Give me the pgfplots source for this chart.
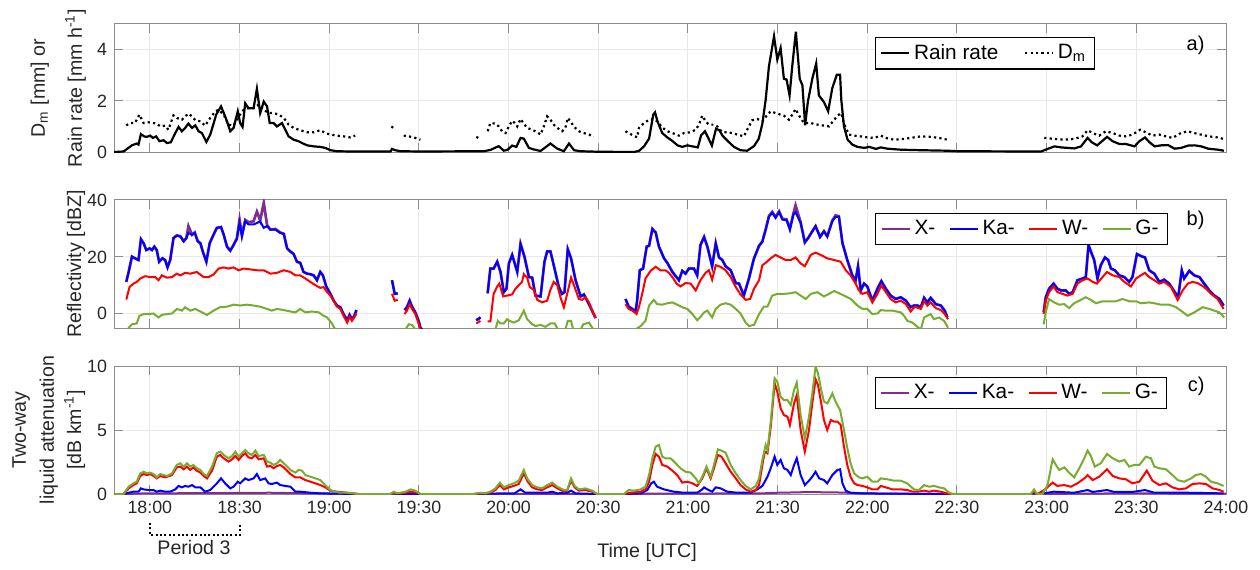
\documentclass[border=0pt]{standalone}
\usepackage{fontspec}
\setmainfont{Liberation Sans}
\usepackage{pgfplots}
\pgfplotsset{compat=1.18}
\usepackage{pgfplotstable}

\definecolor{cX}{rgb}{0.494,0.184,0.556}
\definecolor{cKa}{rgb}{0,0,1}
\definecolor{cW}{rgb}{1,0,0}
\definecolor{cG}{rgb}{0.466,0.674,0.188}
\definecolor{txt}{gray}{0.15}

% time in minutes after 18:00 UTC
\pgfplotstableread[row sep=\\]{
t r\\
-12 0\\ -8.8 0.02\\ -6.0 0.26\\ -4.4 0.33\\ -3.8 0.29\\ -3.0 0.70\\ -1.9 0.61\\ -1.0 0.59\\
0.1 0.64\\ 1.0 0.55\\ 2.1 0.61\\ 3.2 0.42\\ 4.6 0.46\\ 5.7 0.35\\ 7.0 0.38\\ 8.5 0.74\\
9.6 0.98\\ 10.7 0.81\\ 11.8 0.94\\ 12.9 1.11\\ 14.1 0.94\\ 15.2 1.04\\ 16.3 0.81\\ 17.4 0.74\\
18.9 0.39\\ 20.2 0.68\\ 22.2 1.46\\ 23.8 1.78\\ 25.2 1.39\\ 26.9 0.81\\ 28.0 0.94\\ 29.4 1.59\\
30.2 1.13\\ 31.0 0.98\\ 31.9 1.90\\ 33.0 1.71\\ 34.7 1.71\\ 35.8 2.47\\ 36.9 1.52\\ 38.1 1.97\\
39.2 1.78\\ 40.1 1.13\\ 41.4 1.13\\ 42.5 1.00\\ 44.2 1.13\\ 45.3 0.87\\ 46.4 0.61\\ 48.1 0.48\\
49.8 0.42\\ 50.9 0.35\\ 52.6 0.26\\ 54.8 0.22\\ 57.0 0.20\\ 58.7 0.16\\ 60.4 0.07\\ 62.6 0.03\\
67.1 0.02\\ 80.5 0.02\\ 81.0 0.12\\ 82.1 0.07\\ 83.8 0.03\\ 90.5 0.02\\ 111.7 0.03\\ 113.9 0.08\\
116.7 0.23\\ 118.4 0.05\\ 119.7 0.09\\ 121.2 0.25\\ 122.6 0.20\\ 124.0 0.55\\ 125.1 0.52\\ 126.8 0.16\\
128.4 0.10\\ 130.7 0.04\\ 134.0 0.33\\ 136.3 0.13\\ 138.5 0.03\\ 140.2 0.33\\ 141.9 0.07\\ 144.1 0.03\\
149.9 0.01\\ 162.0 0.0\\ 163.7 0.05\\ 165.3 0.22\\ 167.0 0.52\\ 168.4 1.46\\ 169.0 1.55\\ 169.8 1.20\\
171.4 0.74\\ 173.1 0.57\\ 174.8 0.43\\ 176.5 0.26\\ 178.1 0.20\\ 179.8 0.26\\ 181.5 0.22\\ 183.3 0.18\\
184.4 0.65\\ 185.7 0.81\\ 186.8 0.55\\ 188.0 0.25\\ 189.4 0.91\\ 190.5 0.85\\ 191.6 0.63\\ 193.3 0.43\\
195.4 0.20\\ 197.6 0.07\\ 199.8 0.05\\ 202.1 0.23\\ 203.7 0.52\\ 204.9 1.11\\ 206.0 2.04\\ 207.1 3.35\\
208.8 4.52\\ 209.9 3.61\\ 211.0 4.06\\ 212.1 2.86\\ 213.0 2.83\\ 214.0 2.21\\ 214.9 3.36\\ 216.1 4.70\\
217.4 2.86\\ 218.3 2.60\\ 219.2 1.04\\ 220.1 1.95\\ 221.6 2.86\\ 222.9 3.46\\ 223.8 2.21\\ 225.5 1.95\\
226.9 1.59\\ 228.3 2.50\\ 229.8 3.02\\ 230.9 3.02\\ 231.3 2.04\\ 232.2 1.00\\ 233.4 0.48\\ 235.0 0.29\\
236.7 0.20\\ 239.0 0.16\\ 240.6 0.20\\ 242.9 0.12\\ 244.5 0.18\\ 246.7 0.13\\ 251.2 0.09\\ 257.9 0.07\\
266.8 0.05\\ 270.2 0.03\\ 294.7 0.02\\ 298.1 0.02\\ 300.3 0.12\\ 302.6 0.22\\ 304.8 0.18\\ 309.3 0.14\\
311.5 0.22\\ 313.7 0.55\\ 315.1 0.38\\ 316.9 0.26\\ 320.2 0.59\\ 322.1 0.42\\ 324.4 0.31\\ 326.6 0.31\\
329.4 0.22\\ 331.0 0.42\\ 332.9 0.57\\ 334.4 0.38\\ 336.1 0.22\\ 338.3 0.26\\ 340.6 0.27\\ 342.8 0.13\\
345.0 0.16\\ 347.3 0.25\\ 349.5 0.26\\ 351.7 0.22\\ 354.0 0.13\\ 357.3 0.09\\ 359.3 0.05\\
}\rainrate

\pgfplotstableread[row sep=\\]{
t d\\
-7.9 1.04\\ -6.6 1.13\\ -5.0 1.13\\ -3.5 1.46\\ -2.1 1.13\\ -0.4 1.16\\ 1.2 1.13\\ 2.3 1.11\\
3.5 1.00\\ 5.1 1.03\\ 6.2 0.87\\ 7.9 1.43\\ 9.0 1.33\\ 10.7 1.26\\ 11.8 1.39\\ 12.9 1.50\\
14.1 1.39\\ 15.2 1.24\\ 16.9 1.20\\ 18.5 1.03\\ 20.2 1.33\\ 21.9 1.59\\ 23.0 1.65\\ 24.7 1.46\\
26.3 1.07\\ 28.0 1.03\\ 29.7 1.39\\ 31.4 1.65\\ 33.0 1.72\\ 34.7 1.72\\ 36.4 1.85\\ 38.1 1.65\\
39.7 1.52\\ 41.4 1.52\\ 43.1 1.46\\ 44.8 1.33\\ 46.4 1.07\\ 48.1 0.94\\ 50.3 0.85\\ 52.6 0.77\\
54.8 0.77\\ 57.0 0.85\\ 58.7 0.74\\ 60.4 0.68\\ 62.6 0.64\\ 64.8 0.61\\ 67.1 0.57\\ 68.7 0.64\\
nan nan\\ 80.8 1.00\\ 82.1 0.87\\ nan nan\\ 84.9 0.64\\ 86.6 0.61\\ 88.3 0.57\\ 90.5 0.48\\
nan nan\\ 109.2 0.59\\ 110.6 0.51\\ nan nan\\
113.0 0.81\\ 113.9 1.13\\ 115.6 1.11\\ 116.7 1.00\\ 117.8 0.81\\ 119.0 0.74\\ 120.1 1.00\\ 121.2 1.22\\
122.3 1.11\\ 122.9 1.00\\ 124.0 1.29\\ 125.1 1.11\\ 126.2 0.94\\ 127.9 0.87\\ 129.6 0.77\\ 130.7 0.68\\
131.8 1.00\\ 132.9 1.39\\ 134.0 1.26\\ 135.1 1.07\\ 136.3 0.94\\ 137.9 0.81\\ 139.0 0.94\\ 139.8 1.33\\
140.7 1.20\\ 141.8 1.00\\ 143.5 0.81\\ 145.2 0.74\\ 146.9 0.68\\ 148.5 0.59\\ nan nan\\
159.1 0.81\\ 160.8 0.70\\ 163.0 0.57\\ 163.6 0.94\\ 165.3 1.13\\ 167.0 1.26\\ 168.6 1.29\\ 169.7 1.20\\
171.4 0.96\\ 173.1 0.81\\ 174.8 0.74\\ 177.0 0.64\\ 178.7 0.74\\ 180.9 0.77\\ 182.6 0.87\\ 183.7 1.07\\
184.8 1.42\\ 185.9 1.20\\ 187.0 1.07\\ 188.7 1.07\\ 189.8 1.00\\ 191.5 0.77\\ 193.2 0.77\\ 194.8 0.74\\
196.5 0.68\\ 198.7 0.61\\ 200.4 1.00\\ 201.5 1.24\\ 203.2 1.29\\ 204.9 1.20\\ 206.6 1.46\\ 207.7 1.59\\
209.3 1.52\\ 211.0 1.46\\ 212.1 1.42\\ 213.8 1.26\\ 214.9 1.46\\ 216.0 1.68\\ 217.2 1.42\\ 218.8 1.13\\
221.1 1.13\\ 223.3 1.07\\ 225.5 1.03\\ 227.2 1.00\\ 228.9 1.26\\ 230.5 1.46\\ 231.3 1.52\\ 232.0 1.20\\
232.8 0.94\\ 233.9 0.68\\ 235.6 0.64\\ 237.8 0.61\\ 240.0 0.57\\ 242.3 0.55\\ 244.5 0.64\\ 246.2 0.55\\
248.9 0.48\\ 252.3 0.51\\ 255.6 0.57\\ 257.9 0.61\\ 261.2 0.59\\ 264.0 0.55\\ 266.8 0.48\\ nan nan\\
299.2 0.55\\ 302.5 0.51\\ 305.9 0.48\\ 309.2 0.51\\ 312.0 0.61\\ 313.7 0.85\\ 315.4 0.74\\ 317.6 0.64\\
319.8 0.81\\ 322.1 0.74\\ 324.3 0.64\\ 326.5 0.61\\ 328.7 0.68\\ 331.3 0.87\\ 333.2 0.77\\ 335.4 0.64\\
337.7 0.68\\ 339.9 0.61\\ 342.1 0.55\\ 344.9 0.74\\ 347.2 0.81\\ 349.4 0.74\\ 351.6 0.68\\ 354.4 0.61\\
357.2 0.57\\ 359.2 0.51\\
}\dm

% reflectivity: Ka (ka) and X (x)
\pgfplotstableread[row sep=\\]{
t ka x\\
-7.9 11.2 11.2\\ -7.1 14.7 14.7\\ -6.0 20.1 20.1\\ -5.0 19.5 19.5\\ -3.8 18.9 18.9\\ -3.0 26.2 26.2\\
-2.1 24.8 24.8\\ -1.2 22.4 22.4\\ -0.1 23.0 23.0\\ 0.7 22.4 22.4\\ 1.5 23.6 23.6\\ 2.3 22.4 22.4\\
3.1 18.3 18.3\\ 4.2 19.5 19.5\\ 5.1 18.9 18.9\\ 5.9 16.3 16.3\\ 6.8 18.9 18.9\\ 7.9 26.6 26.6\\
9.0 27.4 27.6\\ 10.2 27.2 27.2\\ 11.3 25.4 25.6\\ 12.2 26.6 26.6\\ 12.9 28.4 30.8\\ 14.1 27.8 27.8\\
15.0 28.4 28.6\\ 16.0 25.4 25.6\\ 16.9 24.8 24.8\\ 17.7 21.9 21.9\\ 18.9 18.3 18.3\\ 20.0 24.8 24.8\\
21.3 27.8 27.8\\ 22.4 30.2 30.2\\ 23.8 30.5 30.5\\ 24.7 27.8 27.8\\ 25.8 23.6 23.6\\ 26.9 22.2 22.2\\
28.0 24.2 24.2\\ 29.1 26.2 26.6\\ 30.0 31.9 33.1\\ 30.8 27.2 27.6\\ 31.9 32.5 33.0\\ 33.0 31.4 32.2\\
34.7 31.4 32.5\\ 35.8 31.9 35.9\\ 36.9 32.5 32.8\\ 38.1 30.2 39.0\\ 39.2 30.8 31.2\\ 40.3 29.6 29.6\\
42.0 29.6 29.8\\ 43.6 28.4 28.6\\ 44.8 28.1 28.1\\ 45.9 23.0 23.0\\ 47.0 21.9 21.9\\ 48.1 21.0 21.0\\
49.2 18.3 18.3\\ 50.3 17.9 17.9\\ 51.4 14.7 14.7\\ 52.6 14.1 14.1\\ 53.7 13.9 13.9\\ 54.8 13.5 13.5\\
55.9 11.8 11.8\\ 57.0 14.7 14.7\\ 57.9 13.5 13.5\\ 59.0 9.6 9.6\\ 60.4 7.0 7.0\\ 61.5 4.6 4.6\\
62.6 2.9 2.9\\ 63.7 2.3 2.3\\ 64.8 -0.1 -0.1\\ 66.0 -2.3 -2.3\\ 66.8 -0.4 -0.4\\ 67.6 -1.9 -1.9\\
68.4 -0.7 -0.7\\ 69.1 1.3 1.3\\ nan nan nan\\
81.0 11.8 11.8\\ 81.9 7.0 7.0\\ 82.9 7.2 7.2\\ nan nan nan\\
85.2 1.3 1.3\\ 86.0 2.3 2.3\\ 86.9 4.6 4.6\\ 87.7 2.5 2.5\\ 88.8 0.5 0.5\\ 89.9 -2.5 -2.5\\
90.5 -4.9 -4.9\\ 91.1 -5.5 -5.5\\ nan nan nan\\
109.2 -2.3 -2.3\\ 110.6 -1.3 -1.3\\ nan nan nan\\
113.0 7.2 7.2\\ 113.9 15.9 15.9\\ 115.0 15.9 15.9\\ 116.2 18.3 18.3\\ 117.3 14.7 14.7\\ 118.4 7.6 7.6\\
119.3 8.8 8.8\\ 120.1 17.7 17.7\\ 121.2 20.7 20.7\\ 122.9 14.7 14.7\\ 124.0 24.6 24.6\\ 125.3 20.1 20.1\\
126.8 12.9 12.9\\ 127.9 12.7 12.7\\ 129.0 6.4 6.4\\ 130.7 6.1 6.1\\ 132.0 18.3 18.3\\ 132.9 21.9 21.9\\
134.0 21.9 21.9\\ 135.1 17.1 17.1\\ 136.8 9.4 9.4\\ 137.9 7.0 7.0\\ 138.7 7.6 7.6\\ 139.8 22.7 22.7\\
140.9 19.5 19.5\\ 142.4 11.8 11.8\\ 144.1 6.1 6.1\\ 145.2 6.8 6.8\\ 146.3 4.6 4.6\\ 147.4 2.3 2.3\\
149.1 -1.5 -1.5\\ nan nan nan\\
159.1 5.2 5.2\\ 160.2 2.5 2.5\\ 161.4 1.7 1.7\\ 162.5 0.8 0.8\\ 163.0 4.6 4.6\\ 163.9 15.3 15.3\\
165.0 15.9 15.9\\ 166.2 23.6 23.6\\ 167.0 23.9 23.9\\ 168.1 29.8 29.8\\ 169.2 28.6 28.6\\ 170.3 23.6 23.6\\
172.0 19.5 19.5\\ 173.1 17.9 17.9\\ 174.8 14.7 14.7\\ 177.0 11.8 11.8\\ 178.1 15.1 15.1\\ 179.2 14.1 14.1\\
180.3 15.9 15.9\\ 182.0 15.9 15.9\\ 183.1 13.5 13.5\\ 184.2 24.2 24.2\\ 185.4 27.0 27.0\\ 186.5 23.6 23.6\\
188.1 16.7 16.7\\ 189.3 24.8 24.8\\ 190.4 19.8 19.8\\ 191.5 18.9 18.9\\ 192.6 16.7 16.7\\ 194.3 15.3 15.3\\
196.0 10.8 10.8\\ 197.1 10.6 10.6\\ 198.7 6.4 6.4\\ 200.4 12.4 12.4\\ 202.1 19.5 19.5\\ 203.8 23.9 23.9\\
204.9 25.4 25.4\\ 206.0 29.6 29.6\\ 207.1 34.1 34.4\\ 208.2 35.5 35.8\\ 209.3 33.7 34.0\\ 210.5 35.7 36.0\\
211.6 33.1 33.4\\ 213.0 32.9 33.2\\ 214.1 29.6 29.8\\ 215.3 34.9 35.3\\ 216.0 35.7 38.1\\ 217.7 31.9 32.2\\
219.1 25.1 25.1\\ 220.2 26.6 26.6\\ 221.6 29.0 29.0\\ 222.7 30.8 30.8\\ 224.2 27.0 27.0\\ 225.5 29.0 29.0\\
226.6 27.2 27.2\\ 228.3 32.5 32.8\\ 229.4 34.1 34.6\\ 230.5 34.1 34.3\\ 231.7 24.8 24.8\\ 233.3 18.9 18.9\\
235.0 13.5 13.5\\ 236.1 11.8 11.8\\ 236.9 16.7 16.7\\ 237.8 8.2 8.2\\ 238.9 10.6 10.6\\ 240.0 9.6 9.6\\
241.7 4.6 4.6\\ 243.4 8.8 8.8\\ 244.7 11.5 11.5\\ 246.2 8.8 8.8\\ 247.8 6.4 6.4\\ 249.5 5.2 5.2\\
251.2 5.8 5.8\\ 252.9 4.6 4.6\\ 254.5 2.3 2.3\\ 255.6 2.9 2.9\\ 256.8 2.9 2.9\\ 257.9 2.3 2.3\\
259.0 5.6 5.6\\ 260.1 4.0 4.0\\ 261.2 5.6 5.6\\ 262.9 3.4 3.4\\ 264.6 2.9 2.9\\ 265.9 1.1 1.1\\
266.8 -1.3 -1.3\\ nan nan nan\\
299.0 0.5 0.5\\ 299.7 5.8 5.8\\ 300.8 8.8 8.8\\ 302.3 10.6 10.6\\ 303.6 8.8 8.8\\ 304.8 8.2 8.2\\
306.4 8.2 8.2\\ 307.5 7.0 7.0\\ 308.7 7.6 7.6\\ 310.3 11.8 11.8\\ 312.0 12.4 12.4\\ 313.1 12.9 12.9\\
314.0 24.2 24.2\\ 315.0 21.3 21.3\\ 315.9 18.9 18.9\\ 317.0 12.4 12.4\\ 318.1 17.1 17.1\\ 319.5 19.8 19.8\\
320.6 18.9 18.9\\ 321.5 15.9 15.9\\ 322.8 15.3 15.3\\ 324.3 13.5 13.5\\ 326.0 12.9 12.9\\ 327.6 11.2 11.2\\
328.7 12.9 12.9\\ 330.2 21.0 21.0\\ 331.5 20.3 20.3\\ 332.9 19.8 19.8\\ 334.3 15.3 15.3\\ 336.0 14.1 14.1\\
337.7 11.2 11.2\\ 339.3 12.0 12.0\\ 341.0 10.6 10.6\\ 342.5 8.2 8.2\\ 344.0 5.8 5.8\\ 345.2 15.3 15.3\\
346.0 12.4 12.4\\ 347.7 15.1 15.1\\ 349.4 13.5 13.5\\ 351.1 12.9 12.9\\ 352.7 10.6 10.6\\ 354.4 8.2 8.2\\
356.1 6.4 6.4\\ 357.8 5.2 5.2\\ 359.2 2.9 2.9\\
}\refka

\pgfplotstableread[row sep=\\]{
t w\\
-7.9 5.0\\ -6.8 9.4\\ -5.5 10.6\\ -4.4 11.2\\ -3.2 12.4\\ -1.6 13.2\\ 0.1 12.9\\ 1.8 12.9\\
2.9 11.8\\ 4.0 13.5\\ 5.7 12.7\\ 7.4 12.9\\ 9.0 14.1\\ 10.2 13.5\\ 11.8 14.4\\ 13.5 14.1\\
15.7 14.7\\ 18.0 12.9\\ 19.6 12.9\\ 21.3 13.8\\ 23.0 15.9\\ 24.7 16.3\\ 26.3 15.9\\ 28.0 16.3\\
29.7 15.3\\ 31.4 15.9\\ 33.6 15.6\\ 35.8 15.3\\ 38.1 15.3\\ 40.3 14.1\\ 42.5 14.4\\ 44.8 15.3\\
47.0 14.7\\ 48.7 13.5\\ 50.3 13.5\\ 52.0 12.4\\ 53.7 11.2\\ 55.4 10.0\\ 57.0 9.1\\ 58.1 9.4\\
59.3 7.6\\ 60.4 6.4\\ 61.5 4.4\\ 62.6 2.5\\ 63.7 1.7\\ 64.8 -0.7\\ 66.0 -3.1\\ 66.8 -1.1\\
67.6 -2.5\\ 68.4 -1.3\\ 69.1 0.1\\ nan nan\\
81.0 7.0\\ 81.9 4.6\\ 82.9 4.9\\ nan nan\\
85.2 -0.1\\ 86.0 1.1\\ 86.9 3.4\\ 87.7 1.7\\ 88.8 -0.1\\ 89.9 -3.4\\ 90.5 -5.5\\ nan nan\\
109.2 -3.4\\ 110.6 -2.5\\ nan nan\\
113.0 -2.7\\ 113.9 -2.7\\ 115.0 7.0\\ 116.2 9.6\\ 116.9 10.6\\ 118.2 6.1\\ 119.5 6.4\\ 121.2 6.8\\
122.3 8.8\\ 123.4 10.0\\ 124.5 11.2\\ 125.1 13.9\\ 126.2 12.7\\ 127.1 9.4\\ 128.4 8.4\\ 129.6 4.9\\
131.2 4.0\\ 132.9 4.6\\ 134.0 8.4\\ 135.1 11.2\\ 136.3 10.0\\ 137.4 5.6\\ 138.5 2.3\\ 139.6 7.0\\
140.9 12.7\\ 142.1 9.4\\ 143.5 5.2\\ 144.6 4.9\\ 145.7 5.8\\ 146.9 4.0\\ 148.0 1.1\\ 149.1 -1.5\\
nan nan\\
159.1 3.4\\ 160.2 1.7\\ 161.4 1.1\\ 162.8 -0.1\\ 163.6 2.3\\ 164.7 7.0\\ 165.8 12.4\\ 167.5 15.1\\
169.2 16.5\\ 170.8 15.3\\ 172.5 15.3\\ 173.6 14.4\\ 174.8 12.9\\ 176.2 10.6\\ 177.5 9.6\\ 179.2 10.8\\
180.9 10.6\\ 182.6 8.2\\ 184.2 11.8\\ 185.9 14.4\\ 187.0 15.3\\ 188.1 12.0\\ 189.3 17.1\\ 190.9 16.5\\
192.6 15.3\\ 194.3 12.9\\ 196.0 9.4\\ 197.6 6.8\\ 199.3 4.9\\ 200.8 5.2\\ 202.1 8.8\\ 203.8 11.8\\
204.9 17.1\\ 206.0 17.9\\ 207.7 19.5\\ 209.3 20.7\\ 211.0 19.8\\ 212.7 18.9\\ 214.4 18.9\\ 216.0 19.8\\
217.7 17.7\\ 219.1 16.7\\ 221.1 20.7\\ 222.7 21.5\\ 224.4 20.7\\ 226.6 19.5\\ 228.9 18.9\\ 231.1 18.3\\
232.8 15.3\\ 234.4 13.5\\ 236.1 10.6\\ 237.2 8.2\\ 238.4 7.0\\ 240.0 7.6\\ 241.7 4.0\\ 243.4 7.0\\
244.7 10.0\\ 246.2 7.6\\ 247.8 5.2\\ 249.5 4.0\\ 251.2 4.6\\ 252.9 3.4\\ 254.5 0.8\\ 255.9 2.5\\
257.9 1.7\\ 259.0 4.4\\ 260.1 2.9\\ 261.2 4.0\\ 262.9 2.0\\ 264.6 1.3\\ 265.9 -0.1\\ 267.0 -1.9\\
nan nan\\
299.0 -0.1\\ 299.7 4.6\\ 300.8 7.6\\ 302.3 9.6\\ 303.6 7.6\\ 305.3 7.0\\ 307.0 6.4\\ 308.7 7.0\\
310.3 10.6\\ 312.0 11.8\\ 313.7 12.4\\ 315.4 11.2\\ 316.8 10.6\\ 318.7 12.9\\ 320.2 14.7\\ 322.1 13.5\\
324.3 12.9\\ 326.0 11.2\\ 328.2 9.6\\ 329.9 12.4\\ 331.5 13.5\\ 332.9 14.4\\ 334.3 12.9\\ 336.0 11.8\\
337.7 10.6\\ 339.3 11.2\\ 341.6 9.4\\ 343.8 4.9\\ 345.5 8.2\\ 347.2 10.6\\ 348.8 11.2\\ 350.5 10.8\\
352.7 9.4\\ 355.0 7.0\\ 357.2 5.2\\ 359.2 1.7\\
}\refw

\pgfplotstableread[row sep=\\]{
t g\\
-7.5 -5.5\\ -6.0 -3.7\\ -4.4 -3.4\\ -3.5 -0.7\\ -2.1 -0.1\\ -0.4 -0.1\\ 1.2 0.1\\ 2.9 -1.3\\
4.0 -0.4\\ 5.7 -0.1\\ 7.4 0.1\\ 9.0 1.7\\ 10.7 1.1\\ 11.8 2.3\\ 13.5 1.1\\ 15.2 1.7\\
16.9 0.8\\ 19.1 -0.4\\ 21.3 1.1\\ 23.5 2.3\\ 25.8 2.5\\ 28.0 3.2\\ 30.2 2.9\\ 32.5 3.2\\
34.7 2.9\\ 36.9 2.5\\ 39.2 1.7\\ 40.8 1.1\\ 42.5 1.7\\ 44.8 1.3\\ 47.0 0.8\\ 48.7 0.5\\
50.3 1.7\\ 52.0 0.5\\ 54.2 0.8\\ 56.5 0.5\\ 58.1 -0.7\\ 59.3 -1.3\\ 60.9 -3.4\\ 62.0 -5.5\\
nan nan\\ 85.5 -5.5\\ 86.6 -3.7\\ 87.7 -3.9\\ 88.8 -5.5\\ nan nan\\
115.6 -5.5\\ 116.4 -2.5\\ 117.3 -3.4\\ 118.4 -3.4\\ 119.5 -1.9\\ 120.4 -2.5\\ 121.7 -3.1\\ 123.4 -2.3\\
125.1 1.1\\ 126.2 -1.9\\ 127.9 -3.7\\ 129.0 -4.3\\ 130.7 -3.9\\ 132.3 -4.6\\ 134.0 -3.4\\ 135.4 -3.4\\
136.5 -5.5\\ nan nan\\ 139.0 -5.5\\ 139.8 -2.5\\ 140.9 -2.5\\ 141.6 -5.5\\ nan nan\\
144.1 -5.5\\ 145.0 -3.7\\ 146.9 -3.1\\ 148.0 -4.9\\ 148.5 -5.5\\ nan nan\\
162.5 -5.5\\ 164.2 -4.3\\ 165.8 -2.5\\ 167.0 2.9\\ 168.6 4.9\\ 169.7 3.4\\ 171.4 3.2\\ 173.1 3.7\\
174.8 4.0\\ 176.4 3.2\\ 178.1 2.3\\ 179.8 1.7\\ 181.5 -0.1\\ 183.1 -2.3\\ 184.2 -1.1\\ 185.4 0.5\\
186.5 1.1\\ 188.1 -1.3\\ 189.3 1.7\\ 190.9 3.2\\ 192.6 3.7\\ 194.3 3.2\\ 196.0 1.7\\ 197.6 0.1\\
199.3 -3.1\\ 200.4 -4.3\\ 202.1 -3.9\\ 203.8 -0.1\\ 205.4 2.5\\ 206.6 2.5\\ 208.2 6.4\\ 209.9 7.0\\
212.1 7.0\\ 214.4 7.2\\ 216.0 7.6\\ 217.7 6.4\\ 219.4 5.2\\ 221.1 7.0\\ 223.3 7.6\\ 225.5 6.1\\
227.2 7.0\\ 228.9 8.0\\ 230.6 7.2\\ 232.2 6.4\\ 234.5 5.2\\ 236.7 2.9\\ 238.4 1.7\\ 240.0 1.7\\
241.7 -0.1\\ 243.4 0.1\\ 244.5 1.3\\ 246.2 1.1\\ 248.4 1.1\\ 251.2 0.5\\ 252.3 -0.7\\ 253.4 -2.5\\
255.1 -3.1\\ 256.8 -4.6\\ 257.9 -5.5\\ 259.0 -1.3\\ 260.1 -0.7\\ 261.2 -0.1\\ 262.3 -1.9\\ 264.0 -1.3\\
265.7 -2.5\\ 267.0 -4.9\\ nan nan\\
299.0 -3.7\\ 299.7 0.5\\ 300.8 5.2\\ 302.5 4.0\\ 304.2 3.2\\ 305.9 3.4\\ 307.5 2.0\\ 309.2 3.7\\
310.9 4.6\\ 313.1 5.8\\ 314.8 4.9\\ 316.5 3.7\\ 318.7 4.4\\ 320.9 4.4\\ 323.2 4.4\\ 325.4 5.2\\
327.6 4.4\\ 329.9 4.4\\ 331.5 3.7\\ 334.3 4.0\\ 336.0 3.7\\ 338.2 3.2\\ 341.0 3.2\\ 343.3 2.3\\
344.9 1.1\\ 347.2 -0.7\\ 349.4 0.5\\ 352.2 2.3\\ 354.4 1.7\\ 356.1 1.1\\ 357.8 0.5\\ 359.4 -1.3\\
}\refg

% two-way liquid attenuation
\pgfplotstableread[row sep=\\]{
t g\\
-11.9 0\\ -8.8 0\\ -7.1 0.57\\ -5.5 0.83\\ -4.4 0.96\\ -3.2 1.61\\ -2.1 1.74\\ -1.0 1.61\\
0.1 1.67\\ 1.2 1.56\\ 2.3 1.30\\ 3.5 1.56\\ 4.6 1.48\\ 5.7 1.41\\ 7.4 1.61\\ 9.0 2.27\\
10.2 2.40\\ 11.3 2.14\\ 12.4 2.40\\ 13.5 2.14\\ 14.6 2.27\\ 15.7 2.01\\ 16.9 1.88\\ 18.0 1.56\\
19.1 1.41\\ 20.8 2.14\\ 22.4 3.18\\ 23.5 3.31\\ 24.7 3.05\\ 26.3 2.79\\ 27.5 2.97\\ 28.6 3.31\\
29.7 2.92\\ 30.8 3.18\\ 31.9 3.44\\ 33.0 3.18\\ 34.1 3.05\\ 35.3 3.39\\ 36.4 2.97\\ 38.1 3.05\\
39.2 2.53\\ 40.3 2.45\\ 41.4 2.27\\ 42.5 2.40\\ 43.6 2.66\\ 44.8 2.40\\ 45.9 2.14\\ 47.0 1.88\\
48.7 1.67\\ 49.8 1.88\\ 50.9 1.82\\ 52.0 1.48\\ 53.7 1.35\\ 55.4 1.22\\ 57.0 1.09\\ 58.7 0.70\\
60.4 0.31\\ 62.0 0.18\\ 63.7 0.10\\ 66.0 0.10\\ 68.2 0.05\\ 69.3 0\\ 80.5 0\\ 81.6 0.18\\
82.7 0.05\\ 83.8 0.10\\ 85.5 0.18\\ 87.2 0.36\\ 88.8 0.26\\ 90.5 0\\ 108.4 0\\ 110.6 0.10\\
112.3 0.05\\ 113.9 0.18\\ 115.6 0.44\\ 117.1 0.89\\ 118.4 0.52\\ 120.1 0.70\\ 121.7 0.83\\ 123.4 1.04\\
125.1 1.88\\ 126.2 1.22\\ 127.9 0.70\\ 129.6 0.52\\ 131.2 0.44\\ 132.9 0.70\\ 134.6 0.89\\ 136.3 0.57\\
138.5 0.31\\ 139.6 0.31\\ 140.9 1.22\\ 142.1 0.63\\ 143.5 0.36\\ 145.7 0.44\\ 148.0 0.26\\ 149.6 0\\
158.6 0\\ 160.2 0.31\\ 161.9 0.26\\ 164.2 0.36\\ 165.8 0.57\\ 167.0 1.48\\ 168.1 2.79\\ 169.2 3.70\\
170.3 3.83\\ 171.4 2.92\\ 172.5 2.79\\ 174.2 2.79\\ 175.9 2.40\\ 177.5 2.01\\ 179.2 1.74\\ 180.9 1.67\\
182.6 1.22\\ 183.7 0.83\\ 184.8 1.35\\ 186.2 2.14\\ 187.6 1.35\\ 188.7 2.27\\ 190.0 3.49\\ 191.2 3.39\\
192.6 3.23\\ 194.3 2.27\\ 196.0 1.61\\ 197.6 1.09\\ 199.3 0.63\\ 201.0 0.36\\ 202.7 0.63\\ 203.8 1.22\\
204.9 2.66\\ 206.0 3.83\\ 206.6 3.44\\ 207.7 5.65\\ 209.0 9.04\\ 209.9 8.78\\ 211.0 7.60\\ 212.1 7.34\\
213.3 7.34\\ 214.4 6.95\\ 215.5 8.13\\ 216.4 8.70\\ 217.7 6.17\\ 219.1 4.35\\ 220.5 6.04\\ 221.6 7.86\\
222.7 9.95\\ 223.5 9.43\\ 224.6 8.10\\ 225.5 7.21\\ 226.6 7.08\\ 227.8 7.60\\ 228.3 7.86\\ 229.4 7.21\\
230.9 6.56\\ 232.2 5.00\\ 233.3 3.60\\ 234.4 2.40\\ 235.6 1.61\\ 237.2 1.30\\ 238.4 1.22\\ 240.0 1.35\\
241.7 0.96\\ 243.4 0.96\\ 244.5 1.22\\ 246.7 1.15\\ 248.9 1.04\\ 251.2 1.04\\ 253.4 0.83\\ 255.6 0.36\\
257.3 0.31\\ 259.0 0.70\\ 260.7 0.57\\ 262.3 0.63\\ 264.0 0.52\\ 265.7 0.44\\ 267.4 0.10\\ 268.5 0\\
294.7 0\\ 295.8 0.36\\ 296.7 0\\ 298.6 0\\ 300.3 0.70\\ 302.0 2.71\\ 303.1 2.27\\ 304.2 1.88\\
305.9 2.08\\ 307.5 1.67\\ 309.2 1.30\\ 310.9 2.01\\ 312.6 2.79\\ 313.7 3.39\\ 314.8 2.97\\ 316.1 2.14\\
318.1 2.40\\ 320.2 3.13\\ 322.1 2.79\\ 324.3 2.53\\ 326.0 2.66\\ 327.6 2.14\\ 329.3 2.27\\ 331.0 2.27\\
333.2 2.92\\ 334.9 2.79\\ 336.0 2.14\\ 337.7 2.01\\ 339.9 1.93\\ 342.1 1.48\\ 343.8 1.09\\ 346.0 0.96\\
348.3 1.22\\ 349.9 1.48\\ 351.6 1.56\\ 353.3 1.35\\ 355.0 0.96\\ 357.2 0.83\\ 359.2 0.63\\
}\attg

\pgfplotstableread[row sep=\\]{
t w\\
-11.9 0\\ -8.8 0\\ -7.1 0.44\\ -5.5 0.70\\ -4.4 0.83\\ -3.2 1.41\\ -2.1 1.56\\ -1.0 1.48\\
0.1 1.56\\ 1.2 1.41\\ 2.3 1.22\\ 3.5 1.41\\ 5.1 1.30\\ 7.4 1.48\\ 9.0 2.08\\ 10.2 2.14\\
11.3 1.93\\ 12.4 2.14\\ 13.5 1.88\\ 14.6 2.08\\ 15.7 1.82\\ 16.9 1.67\\ 18.0 1.41\\ 19.1 1.22\\
20.8 1.82\\ 22.4 2.92\\ 23.5 3.05\\ 24.7 2.79\\ 26.3 2.53\\ 27.5 2.71\\ 28.6 2.97\\ 29.7 2.66\\
30.8 2.97\\ 31.9 3.18\\ 33.0 2.86\\ 34.1 2.79\\ 35.3 3.05\\ 36.4 2.71\\ 38.1 2.79\\ 39.2 2.14\\
40.3 2.19\\ 41.4 2.01\\ 42.5 2.19\\ 43.6 2.27\\ 44.8 2.08\\ 45.9 1.82\\ 47.0 1.56\\ 48.7 1.30\\
50.3 1.30\\ 52.0 1.09\\ 53.7 0.96\\ 55.4 0.83\\ 57.0 0.70\\ 58.7 0.52\\ 60.4 0.26\\ 62.6 0.18\\
66.0 0.10\\ 69.3 0\\ 80.5 0\\ 81.6 0.10\\ 83.8 0.05\\ 85.5 0.10\\ 87.2 0.18\\ 89.4 0.10\\
90.5 0\\ 108.4 0\\ 110.6 0.05\\ 113.9 0.10\\ 115.6 0.31\\ 117.1 0.70\\ 118.4 0.36\\ 120.1 0.52\\
121.7 0.63\\ 123.4 0.78\\ 125.1 1.61\\ 126.4 0.96\\ 127.9 0.52\\ 129.6 0.36\\ 131.2 0.31\\ 132.9 0.52\\
134.6 0.70\\ 136.3 0.44\\ 138.5 0.18\\ 139.6 0.26\\ 140.9 1.04\\ 142.1 0.52\\ 143.5 0.26\\ 145.7 0.31\\
148.0 0.18\\ 149.6 0\\ 158.6 0\\ 160.8 0.10\\ 164.2 0.18\\ 165.8 0.36\\ 167.0 0.96\\ 168.1 2.27\\
169.2 3.13\\ 170.3 2.92\\ 171.4 2.27\\ 173.1 2.14\\ 174.8 1.82\\ 176.4 1.48\\ 178.1 0.89\\ 179.8 0.96\\
181.5 0.83\\ 183.1 0.63\\ 184.8 1.22\\ 186.2 2.01\\ 187.6 1.22\\ 188.7 2.01\\ 190.0 3.05\\ 191.2 2.92\\
192.6 2.40\\ 194.3 1.74\\ 196.0 1.22\\ 197.6 0.70\\ 199.3 0.36\\ 201.0 0.18\\ 202.7 0.31\\ 203.8 0.70\\
204.9 2.27\\ 205.7 3.31\\ 206.6 3.18\\ 207.7 5.26\\ 209.0 8.65\\ 209.9 7.99\\ 211.0 6.69\\ 212.1 6.17\\
213.3 6.04\\ 214.1 5.39\\ 215.5 7.08\\ 216.4 7.73\\ 217.7 5.00\\ 219.1 3.31\\ 220.5 5.00\\ 221.6 7.08\\
222.7 8.96\\ 223.5 8.52\\ 224.6 7.08\\ 225.5 5.78\\ 226.6 5.00\\ 227.8 5.78\\ 228.9 5.65\\ 230.0 5.65\\
231.1 5.39\\ 232.2 3.70\\ 233.3 2.27\\ 234.4 1.35\\ 235.6 0.83\\ 236.7 0.70\\ 238.4 0.63\\ 240.0 0.52\\
241.7 0.36\\ 243.4 0.36\\ 244.5 0.63\\ 246.2 0.52\\ 248.4 0.36\\ 251.2 0.36\\ 253.4 0.31\\ 255.1 0.18\\
256.8 0.18\\ 259.0 0.26\\ 260.7 0.18\\ 262.3 0.26\\ 264.6 0.18\\ 267.4 0\\ 294.7 0\\ 295.8 0.18\\
296.9 0\\ 299.2 0.31\\ 302.0 0.89\\ 303.6 0.63\\ 305.9 0.70\\ 308.1 0.57\\ 310.3 0.83\\ 312.6 1.22\\
313.7 1.48\\ 315.4 1.09\\ 317.6 1.35\\ 320.2 1.93\\ 322.1 1.41\\ 324.3 1.22\\ 326.5 1.15\\ 328.7 0.83\\
331.0 0.96\\ 333.5 1.82\\ 335.4 1.04\\ 337.7 0.70\\ 339.9 0.83\\ 342.1 0.52\\ 344.4 0.36\\ 346.6 0.44\\
348.8 0.78\\ 351.1 0.83\\ 353.3 0.78\\ 355.5 0.44\\ 357.8 0.31\\ 359.2 0.18\\
}\attw

\pgfplotstableread[row sep=\\]{
t ka\\
-11.9 0\\ -8.8 0\\ -7.1 0.10\\ -5.5 0.18\\ -3.8 0.18\\ -3.0 0.44\\ -2.1 0.36\\ -0.4 0.31\\
1.2 0.31\\ 2.3 0.18\\ 3.5 0.26\\ 5.1 0.18\\ 6.8 0.18\\ 8.5 0.36\\ 9.6 0.63\\ 10.7 0.52\\
11.8 0.63\\ 12.9 0.57\\ 14.1 0.70\\ 15.2 0.52\\ 16.9 0.52\\ 18.5 0.18\\ 20.2 0.31\\ 22.4 0.83\\
23.8 1.22\\ 25.2 0.83\\ 26.9 0.44\\ 28.0 0.57\\ 29.4 0.96\\ 30.2 0.83\\ 31.9 1.22\\ 33.0 1.09\\
34.7 1.22\\ 35.8 1.56\\ 36.9 1.09\\ 38.6 1.22\\ 39.7 0.83\\ 40.8 0.78\\ 42.5 0.89\\ 43.6 0.70\\
45.3 0.63\\ 47.0 0.57\\ 48.7 0.18\\ 50.3 0.18\\ 53.7 0.10\\ 57.0 0.05\\ 69.3 0\\ 80.5 0\\
81.6 0.10\\ 82.7 0\\ 108.4 0\\ 110.6 0.03\\ 122.0 0.05\\ 124.0 0.36\\ 125.6 0.10\\ 132.9 0.10\\
134.6 0.18\\ 136.3 0.05\\ 139.6 0.10\\ 140.9 0.26\\ 142.4 0.05\\ 149.6 0\\ 158.6 0\\ 164.2 0.05\\
166.4 0.31\\ 167.7 0.83\\ 168.6 0.96\\ 169.7 0.57\\ 172.0 0.36\\ 175.3 0.18\\ 178.7 0.10\\ 183.1 0.10\\
184.8 0.36\\ 185.4 0.52\\ 186.5 0.36\\ 188.1 0.18\\ 189.3 0.52\\ 190.9 0.44\\ 193.2 0.18\\ 196.5 0.10\\
201.0 0.10\\ 203.2 0.36\\ 204.9 0.63\\ 206.6 1.35\\ 207.7 2.01\\ 209.0 2.92\\ 209.9 2.27\\ 211.0 2.66\\
212.1 2.01\\ 213.3 1.88\\ 214.4 1.48\\ 215.5 2.27\\ 216.4 2.79\\ 217.7 1.48\\ 219.1 0.70\\ 220.5 1.04\\
221.6 1.35\\ 222.7 1.74\\ 223.9 1.22\\ 225.5 1.09\\ 226.6 0.83\\ 228.3 1.48\\ 230.0 1.88\\ 230.9 1.93\\
231.7 0.83\\ 232.8 0.26\\ 234.4 0.10\\ 237.8 0.05\\ 246.7 0.03\\ 268.5 0\\ 294.7 0\\ 295.8 0.10\\
296.9 0\\ 300.3 0.10\\ 302.5 0.18\\ 309.2 0.10\\ 313.7 0.31\\ 315.4 0.16\\ 320.2 0.31\\ 322.6 0.16\\
328.7 0.16\\ 332.9 0.31\\ 336.0 0.10\\ 347.2 0.10\\ 359.2 0.05\\
}\attka

\pgfplotstableread[row sep=\\]{
t x\\
-12 0\\ -8 0\\ -3 0.04\\ 10 0.06\\ 30 0.08\\ 40 0.10\\ 50 0.06\\ 65 0.02\\ 70 0\\ 160 0\\
165 0.02\\ 175 0.03\\ 205 0.05\\ 210 0.10\\ 215 0.12\\ 220 0.15\\ 230 0.12\\ 240 0.05\\
250 0.02\\ 270 0\\ 300 0\\ 310 0.03\\ 330 0.05\\ 360 0.02\\
}\attx

\pgfplotsset{
  panel/.style={
    scale only axis, width=556pt, height=64pt,
    xmin=-12, xmax=360, xtick={0,30,...,360},
    axis line style={black!45, line width=0.5pt},
    tick style={black!45, line width=0.5pt},
    major tick length=4.5pt, tick align=inside,
    grid=major, grid style={black!9, line width=0.5pt},
    ticklabel style={font=\fontsize{8.9}{10.7}\selectfont, text=txt},
    /pgf/number format/assume math mode=true,
    unbounded coords=jump,
    legend columns=-1,
    legend cell align=left,
    legend image code/.code={\draw[##1] (0pt,0pt) -- (14pt,0pt);},
    legend style={anchor=north west, draw=black, line width=0.6pt, fill=white,
      font=\fontsize{10.4}{12.4}\selectfont, text=black, inner xsep=2.5pt, inner ysep=1.5pt,
      nodes={inner sep=1.8pt}},
  },
  series/.style={line width=1pt},
}

\begin{document}
\begin{tikzpicture}[x=1pt,y=1pt]
\path[use as bounding box] (0,0) rectangle (630,284.5);

% a) rain rate and Dm
\begin{axis}[panel, at={(57pt,208.5pt)}, anchor=south west,
  ymin=0, ymax=5, ytick={0,2,4}, xticklabels={},
  legend style={at={(0.684,0.898)}, /tikz/every even column/.append style={column sep=11pt}}]
\addplot[black, line width=1.1pt] table[x=t, y=r] {\rainrate};
\addlegendentry{Rain rate}
\addplot[black, line width=1.1pt, dash pattern=on 1.1pt off 1.6pt] table[x=t, y=d] {\dm};
\addlegendentry{D\textsubscript{m}\hspace{7pt}}
\node[anchor=east, font=\fontsize{10}{12}\selectfont, text=black] at (rel axis cs:0.987,0.836) {a)};
\end{axis}

% b) reflectivity
\begin{axis}[panel, at={(57pt,120.5pt)}, anchor=south west,
  ymin=-5, ymax=40, ytick={0,20,40}, xticklabels={},
  legend style={at={(0.684,0.898)}, /tikz/every even column/.append style={column sep=5pt}}]
\addplot[series, cX, line width=1.35pt] table[x=t, y=x] {\refka};
\addlegendentry{X-}
\addplot[series, cKa] table[x=t, y=ka] {\refka};
\addlegendentry{Ka-}
\addplot[series, cW] table[x=t, y=w] {\refw};
\addlegendentry{W-}
\addplot[series, cG] table[x=t, y=g] {\refg};
\addlegendentry{G-\hspace{3pt}}
\node[anchor=east, font=\fontsize{10}{12}\selectfont, text=black] at (rel axis cs:0.987,0.844) {b)};
\end{axis}

% c) attenuation
\begin{axis}[panel, at={(57pt,37.5pt)}, anchor=south west,
  ymin=0, ymax=10, ytick={0,5,10},
  xticklabels={18:00,18:30,19:00,19:30,20:00,20:30,21:00,21:30,22:00,22:30,23:00,23:30,24:00},
  legend style={at={(0.684,0.914)}, /tikz/every even column/.append style={column sep=5pt}}]
\addplot[series, cX] table[x=t, y=x] {\attx};
\addlegendentry{X-}
\addplot[series, cKa] table[x=t, y=ka] {\attka};
\addlegendentry{Ka-}
\addplot[series, cW] table[x=t, y=w] {\attw};
\addlegendentry{W-}
\addplot[series, cG] table[x=t, y=g] {\attg};
\addlegendentry{G-\hspace{3pt}}
\node[anchor=east, font=\fontsize{10}{12}\selectfont, text=black] at (rel axis cs:0.987,0.844) {c)};
\end{axis}

% axis labels
\begin{scope}[every node/.style={font=\fontsize{9.8}{11.8}\selectfont, text=txt, inner sep=0pt}]
\node[rotate=90, anchor=base] at (22.5,240.5) {D\textsubscript{m} [mm] or};
\node[rotate=90, anchor=base] at (41,240.5) {Rain rate [mm h\textsuperscript{-1}]};
\node[rotate=90, anchor=base] at (40.5,152.5) {Reflectivity [dBZ]};
\node[rotate=90, anchor=base] at (13,69.5) {Two-way};
\node[rotate=90, anchor=base] at (27,69.5) {liquid attenuation};
\node[rotate=90, anchor=base] at (40.5,69.5) {[dB km\textsuperscript{-1}]};
\node[anchor=base] at (323.5,6) {Time [UTC]};
\node[anchor=base] at (97,7.5) {Period 3};
\end{scope}
\draw[black, line width=1pt, dash pattern=on 1pt off 1.2pt] (75,23) -- (75,17) -- (120,17) -- (120,23);

\end{tikzpicture}
\end{document}
